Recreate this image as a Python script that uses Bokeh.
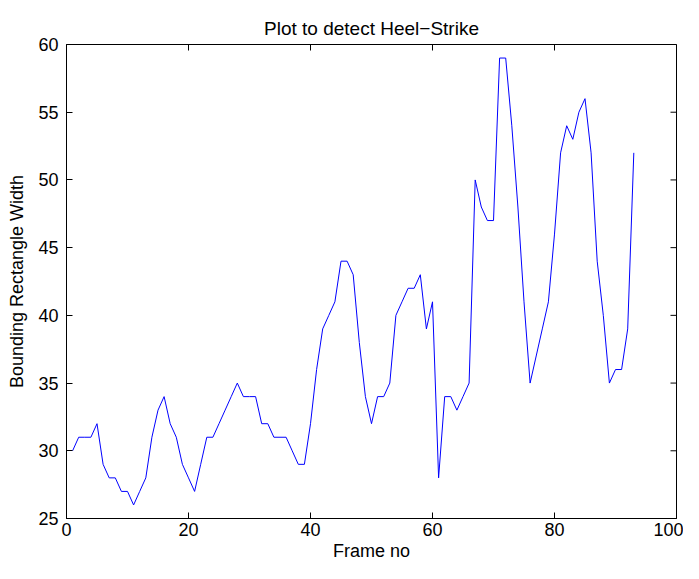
import math
from bokeh.plotting import figure
from bokeh.models import Range1d, ColumnDataSource
from bokeh.embed import file_html
from bokeh.resources import INLINE

frames = list(range(1, 94))
widths = [30, 31, 31, 31, 32, 29, 28, 28, 27, 27,
          26, 27, 28, 31, 33, 34, 32, 31, 29, 28,
          27, 29, 31, 31, 32, 33, 34, 35, 34, 34,
          34, 32, 32, 31, 31, 31, 30, 29, 29, 32,
          36, 39, 40, 41, 44, 44, 43, 38, 34, 32,
          34, 34, 35, 40, 41, 42, 42, 43, 39, 41,
          28, 34, 34, 33, 34, 35, 50, 48, 47, 47,
          59, 59, 54, 48, 41, 35, 37, 39, 41, 46,
          52, 54, 53, 55, 56, 52, 44, 40, 35, 36,
          36, 39, 52]
x_ticks = [0, 20, 40, 60, 80, 100]
y_ticks = [25, 30, 35, 40, 45, 50, 55, 60]

FONT = "Liberation Sans"
FS = "18px"

src = ColumnDataSource(dict(x=frames, y=widths))

p = figure(width=683, height=563,
           x_range=Range1d(x_ticks[0], x_ticks[-1]), y_range=Range1d(y_ticks[0], y_ticks[-1]),
           output_backend="svg", toolbar_location=None,
           min_border_left=66, min_border_right=7, min_border_top=44, min_border_bottom=45,
           title="Plot to detect Heel\u2212Strike")
p.line("x", "y", source=src, line_color="#0000ff", line_width=1)

# inward ticks on the top and right edges of the box (half of each dash is clipped by the frame)
p.scatter(x=x_ticks, y=[y_ticks[-1]] * len(x_ticks), marker="dash", angle=math.pi / 2,
          size=12, line_color="black", line_width=1)
p.scatter(x=[x_ticks[-1]] * len(y_ticks), y=y_ticks, marker="dash",
          size=12, line_color="black", line_width=1)

p.title.align = "center"
p.title.text_font = FONT
p.title.text_font_size = "19px"
p.title.text_font_style = "normal"
p.title.text_color = "black"
p.title.standoff = 12

p.xgrid.grid_line_color = None
p.ygrid.grid_line_color = None
p.outline_line_color = "black"
p.outline_line_width = 1
p.background_fill_color = "white"
p.border_fill_color = "white"

for ax, ticks in ((p.xaxis, x_ticks), (p.yaxis, y_ticks)):
    ax.ticker = ticks
    ax.major_tick_in = 6
    ax.major_tick_out = 0
    ax.minor_tick_line_color = None
    ax.axis_line_color = "black"
    ax.major_tick_line_color = "black"
    ax.major_label_text_font = FONT
    ax.major_label_text_font_size = FS
    ax.major_label_text_color = "black"
    ax.axis_label_text_font = FONT
    ax.axis_label_text_font_size = FS
    ax.axis_label_text_font_style = "normal"
    ax.axis_label_text_color = "black"

p.xaxis.axis_label = "Frame no"
p.yaxis.axis_label = "Bounding Rectangle Width"
p.xaxis.major_label_standoff = 4
p.xaxis.axis_label_standoff = 2
p.yaxis.major_label_standoff = 8
p.yaxis.axis_label_standoff = 8

open("out.html", "w").write(file_html(p, INLINE))
